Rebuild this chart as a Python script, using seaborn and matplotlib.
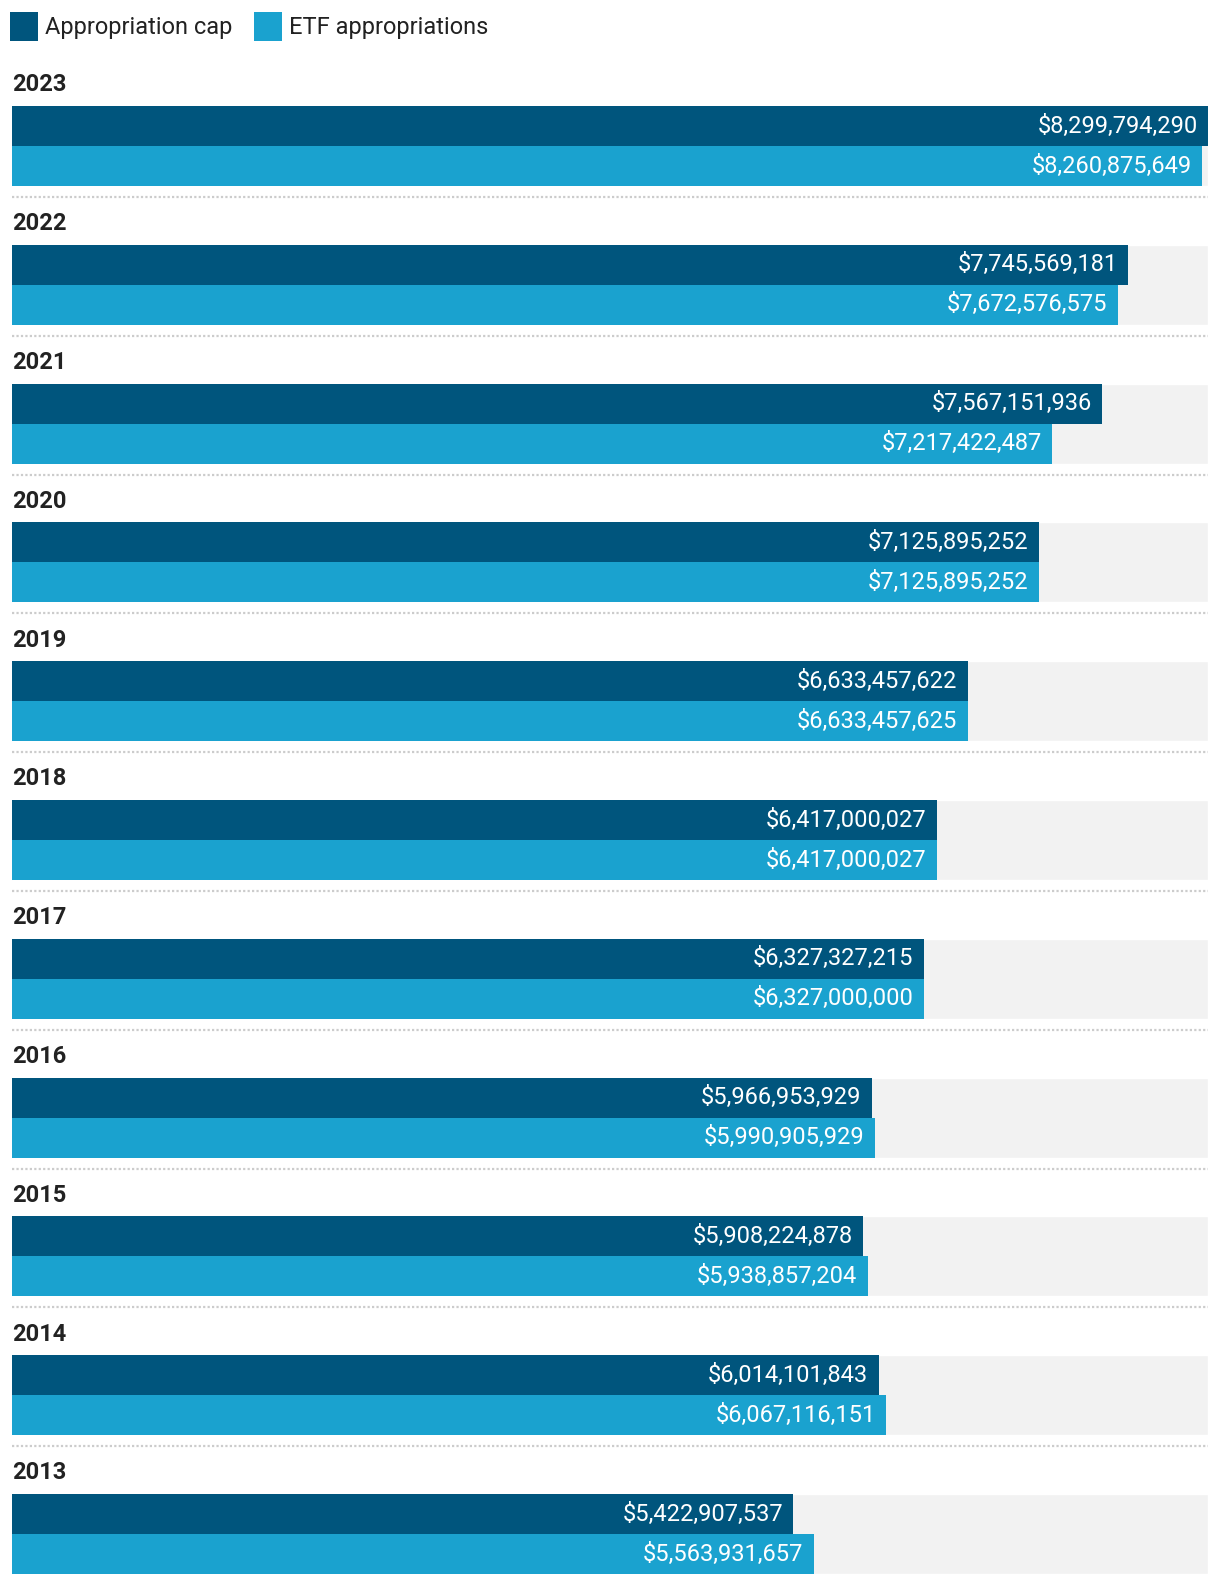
import matplotlib
matplotlib.use("Agg")
import matplotlib.pyplot as plt
import seaborn as sns
import numpy as np
import pandas as pd

years = ["2023", "2022", "2021", "2020", "2019", "2018", "2017", "2016", "2015", "2014", "2013"]
cap = [8299794290, 7745569181, 7567151936, 7125895252, 6633457622, 6417000027,
       6327327215, 5966953929, 5908224878, 6014101843, 5422907537]
etf = [8260875649, 7672576575, 7217422487, 7125895252, 6633457625, 6417000027,
       6327000000, 5990905929, 5938857204, 6067116151, 5563931657]
series = ["Appropriation cap", "ETF appropriations"]
colors = ["#00557d", "#1aa2cf"]

df = pd.DataFrame({
    "year": years * 2,
    "value": cap + etf,
    "series": [series[0]] * len(years) + [series[1]] * len(years),
})

sns.set_style("white")
plt.rcParams["font.family"] = ["Roboto", "DejaVu Sans"]

W, H = 1220, 1584
fig = plt.figure(figsize=(W / 100, H / 100), dpi=100)
ax = fig.add_axes([12 / W, 0, 1196 / W, 1])

n = len(years)
vmax = max(max(cap), max(etf))
pos = np.arange(n)
group_w = 0.576

# grey track behind each pair of bars
track = ax.barh(pos, vmax, height=group_w, color="#f2f2f2", zorder=0)

sns.barplot(data=df, y="year", x="value", hue="series", order=years, hue_order=series,
            palette=colors, width=group_w, orient="h", saturation=1, errorbar=None,
            linewidth=0, ax=ax, zorder=2)

# value labels inside the bar ends (skip the grey track)
for cont in ax.containers:
    if cont is track:
        continue
    for bar in cont:
        w = bar.get_width()
        yc = bar.get_y() + bar.get_height() / 2
        ax.annotate(f"${w:,.0f}", xy=(w, yc), xytext=(-7.5, 0), textcoords="offset points",
                    ha="right", va="center", color="white", fontsize=17, zorder=3)

# year headings and dotted separators
for i, yr in enumerate(years):
    ax.text(0, i - 0.44, yr, ha="left", va="center", fontsize=17, fontweight="bold",
            color="#222222")
    if i < n - 1:
        ax.hlines(i + 0.367, 0, vmax, colors="#cccccc", linestyles=(0, (1, 1)), linewidth=1.6)

ax.set_xlim(0, vmax)
ax.set_ylim((H - 146) / 138.8, -146 / 138.8)
ax.axis("off")

sns.move_legend(ax, "upper left", bbox_to_anchor=(10 / W, 1 - 12 / H),
                bbox_transform=fig.transFigure, ncol=2, frameon=False, title=None,
                fontsize=17, handlelength=1.2, handleheight=1.5, handletextpad=0.3,
                columnspacing=0.9, borderpad=0, borderaxespad=0)
for t in ax.get_legend().get_texts():
    t.set_color("#222222")

fig.savefig("out.png", dpi=100)
plt.close(fig)
